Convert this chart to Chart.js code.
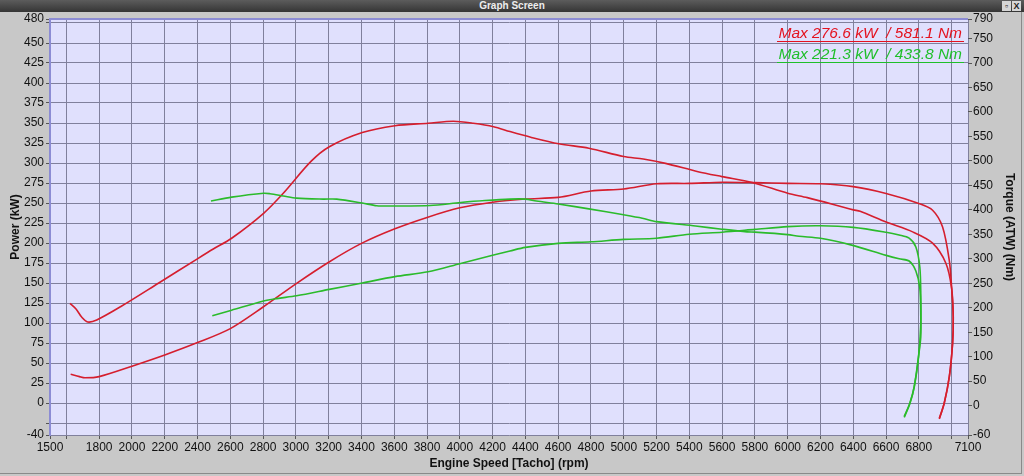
<!DOCTYPE html>
<html lang="en">
<head>
<meta charset="UTF-8">
<title>Graph Screen</title>
<style>
  body { margin: 0; background: #c8c8c8; }
  #wrap { position: relative; width: 1024px; height: 476px; overflow: hidden; }
  #titlebar { position: absolute; left: 0; top: 0; width: 1024px; height: 12px;
    background: linear-gradient(#5c5c5c, #353535); color: #ededed;
    font: bold 10px "Liberation Sans", Arial, sans-serif; text-align: center; line-height: 12px; }
  .btn { position: absolute; top: 1px; height: 10px; width: 9px; background: #d6d6d6;
    color: #222; font: bold 9px "Liberation Sans", Arial, sans-serif; line-height: 10px; text-align: center; }
  #frame { position: absolute; left: 0; top: 12px; width: 1021px; height: 461px;
    border-right: 1px solid #8a8a8a; border-bottom: 1px solid #8a8a8a; pointer-events: none; }
  .maxline { position: absolute; right: 60px; font: italic 15.5px "Liberation Sans", Arial, sans-serif;
    line-height: 16px; white-space: pre; padding: 0 2px; border-bottom: 1px solid; }
  #chartBox { position: absolute; left: 0; top: 0; width: 1024px; height: 476px; }
</style>
</head>
<body>
<div id="wrap">
  <div id="chartBox"><canvas id="myChart"></canvas></div>
  <div id="titlebar">Graph Screen</div>
  <div class="btn" style="left:1002px">&#9643;</div>
  <div class="btn" style="left:1012px">X</div>
  <div id="frame"></div>
  <div class="maxline" style="top:25px; color:#e4121f; border-color:#e4121f">Max 276.6 kW  / 581.1 Nm</div>
  <div class="maxline" style="top:46px; color:#1fbf2a; border-color:#1fbf2a">Max 221.3 kW  / 433.8 Nm</div>
</div>

<script src="https://cdn.jsdelivr.net/npm/chart.js"></script>
<script>
    // axis ticks
    const rpmTicks = [1500, 1600, 1800, 2000, 2200, 2400, 2600, 2800, 3000, 3200, 3400, 3600, 3800, 4000,
        4200, 4400, 4600, 4800, 5000, 5200, 5400, 5600, 5800, 6000, 6200, 6400, 6600, 6800, 7000, 7100];
    const rpmHidden = [1600, 7000];
    const powerTicks = [-40, -25, 0, 25, 50, 75, 100, 125, 150, 175, 200, 225, 250, 275, 300, 325, 350,
        375, 400, 425, 450, 475, 480];
    const powerHidden = [-25, 475];
    const torqueTicks = [-60, 0, 50, 100, 150, 200, 250, 300, 350, 400, 450, 500, 550, 600, 650, 700, 750, 790];

    // run 1 (red) - power kW
    const redPowerRpm = [1626, 1680, 1713, 1800, 2000, 2200, 2400, 2600, 2800, 3000, 3200, 3400, 3600, 3800,
        4000, 4200, 4400, 4600, 4800, 5000, 5200, 5400, 5600, 5800, 6000, 6200, 6400, 6600, 6800,
        6884, 6945, 6986, 7000, 7010, 7006, 6986, 6955, 6925];
    const redPowerKw = [36, 33, 31.5, 33, 46, 60, 75.5, 93, 120, 149, 176, 199.5, 217.5, 232,
        244, 251, 255, 257, 265, 267.5, 274, 274.5, 276, 275.5, 274.5, 274, 270.5, 262, 249.5,
        241, 220, 178, 145, 108, 75, 33, 0, -20];

    // run 1 (red) - torque Nm
    const redTorqueRpm = [1622, 1660, 1693, 1730, 1785, 1935, 2161, 2404, 2496, 2608, 2803, 2923, 3092, 3204,
        3405, 3604, 3806, 3960, 4082, 4206, 4306, 4437, 4604, 4787, 4999, 5119, 5255, 5453, 5599,
        5784, 6000, 6120, 6401, 6442, 6601, 6762, 6884, 6965, 7000, 7010, 7006, 6986, 6955, 6925];
    const redTorqueNm = [209, 197, 181, 171, 175, 203, 250, 301, 320, 342, 393, 434, 499, 529,
        558, 572, 577, 581, 577, 570, 560, 548, 535, 526, 509, 504, 495, 478, 468,
        456, 434, 425, 400, 397, 375, 355, 332, 291, 240, 182, 127, 59, 5, -26];

    // run 2 (green) - power kW
    const greenPowerRpm = [2490, 2608, 2803, 2883, 3004, 3204, 3405, 3604, 3806, 4005, 4206, 4306, 4400,
        4600, 4800, 5000, 5200, 5400, 5600, 5800, 6000, 6200, 6400, 6600, 6680, 6741, 6782,
        6806, 6812, 6812, 6798, 6772, 6745, 6711];
    const greenPowerKw = [109, 116, 127.5, 130.5, 134, 142, 150, 158, 164, 174.5, 185, 190, 194.5,
        199.5, 201.5, 204.5, 206, 211, 213.5, 217, 220.5, 221.5, 219.5, 213.5, 210, 206, 195,
        170, 137, 99, 57, 20, -1, -18];

    // run 2 (green) - torque Nm
    const greenTorqueRpm = [2482, 2608, 2803, 2842, 2923, 3004, 3167, 3249, 3405, 3493, 3604, 3818, 4005,
        4153, 4306, 4400, 4467, 4600, 4787, 4999, 5113, 5200, 5438, 5599, 5752, 5800, 6000, 6069,
        6200, 6385, 6601, 6680, 6741, 6782, 6806, 6812, 6812, 6798, 6772, 6745, 6711];
    const greenTorqueNm = [418, 426, 434, 433, 428.5, 424, 422, 422, 414, 408.5, 408, 409, 415,
        419, 422, 422, 418, 412, 402, 390, 383, 376, 367, 360.5, 355, 354.5, 349.5, 346,
        342, 328.5, 307, 300, 295.5, 275, 240, 182, 141, 100, 39, 5, -22];

    const RED = '#d51e2e';
    const GREEN = '#2bbb2b';
    const GRID = '#80809c';

    function pts(xs, ys) {
        return xs.map((x, i) => ({ x: x, y: ys[i] }));
    }

    const plotBg = {
        id: 'plotBg',
        beforeDraw(chart) {
            const { ctx, chartArea: a } = chart;
            ctx.save();
            ctx.fillStyle = '#e0e0fd';
            ctx.fillRect(a.left, a.top, a.right - a.left, a.bottom - a.top);
            ctx.restore();
        },
        beforeDatasetsDraw(chart) {
            const { ctx, chartArea: a } = chart;
            ctx.save();
            ctx.strokeStyle = '#8c8cd4';
            ctx.lineWidth = 2;
            ctx.beginPath();
            ctx.moveTo(a.left, a.bottom);
            ctx.lineTo(a.left, a.top);
            ctx.lineTo(a.right, a.top);
            ctx.stroke();
            ctx.restore();
        }
    };

    Chart.defaults.font.family = '"Liberation Sans", Arial, sans-serif';
    Chart.defaults.font.size = 12;
    Chart.defaults.color = '#111';

    const ctx = document.getElementById('myChart');

    new Chart(ctx, {
        type: 'line',
        data: {
            datasets: [
                { label: 'Power 2', data: pts(greenPowerRpm, greenPowerKw), yAxisID: 'yP', borderColor: GREEN },
                { label: 'Torque 2', data: pts(greenTorqueRpm, greenTorqueNm), yAxisID: 'yT', borderColor: GREEN },
                { label: 'Power 1', data: pts(redPowerRpm, redPowerKw), yAxisID: 'yP', borderColor: RED },
                { label: 'Torque 1', data: pts(redTorqueRpm, redTorqueNm), yAxisID: 'yT', borderColor: RED }
            ]
        },
        options: {
            responsive: true,
            maintainAspectRatio: false,
            animation: false,
            layout: { padding: { top: 19, left: 0, right: 0, bottom: 0 } },
            elements: {
                line: { borderWidth: 1.6, tension: 0.3, fill: false },
                point: { radius: 0, hoverRadius: 0 }
            },
            plugins: {
                legend: { display: false },
                tooltip: { enabled: false }
            },
            scales: {
                x: {
                    type: 'linear',
                    min: 1500,
                    max: 7100,
                    afterBuildTicks: s => { s.ticks = rpmTicks.map(v => ({ value: v })); },
                    afterFit: s => { s.height = 41; },
                    ticks: {
                        autoSkip: false,
                        maxRotation: 0,
                        padding: 1,
                        callback: v => rpmHidden.includes(v) ? '' : String(v)
                    },
                    grid: { color: GRID, tickLength: 4, tickColor: '#555' },
                    border: { display: false },
                    title: {
                        display: true,
                        text: 'Engine Speed [Tacho] (rpm)',
                        font: { size: 12, weight: 'bold' },
                        padding: { top: 0, bottom: 5 }
                    }
                },
                yP: {
                    type: 'linear',
                    position: 'left',
                    min: -40,
                    max: 480,
                    afterBuildTicks: s => { s.ticks = powerTicks.map(v => ({ value: v })); },
                    afterFit: s => { s.width = 50; },
                    ticks: {
                        autoSkip: false,
                        padding: 2,
                        callback: v => powerHidden.includes(v) ? '' : String(v)
                    },
                    grid: { color: GRID, tickLength: 4, tickColor: '#555' },
                    border: { color: '#8c8cd4', width: 2 },
                    title: {
                        display: true,
                        text: 'Power (kW)',
                        font: { size: 12, weight: 'bold' },
                        padding: { top: 8, bottom: 0 }
                    }
                },
                yT: {
                    type: 'linear',
                    position: 'right',
                    min: -60,
                    max: 790,
                    afterBuildTicks: s => { s.ticks = torqueTicks.map(v => ({ value: v })); },
                    afterFit: s => { s.width = 56; },
                    ticks: {
                        autoSkip: false,
                        padding: 1,
                        callback: v => String(v)
                    },
                    grid: { drawOnChartArea: false, tickLength: 4, tickColor: '#555' },
                    border: { display: false },
                    title: {
                        display: true,
                        text: 'Torque (ATW) (Nm)',
                        font: { size: 12, weight: 'bold' },
                        padding: { top: 7, bottom: 0 }
                    }
                }
            }
        },
        plugins: [plotBg]
    });
</script>
</body>
</html>
